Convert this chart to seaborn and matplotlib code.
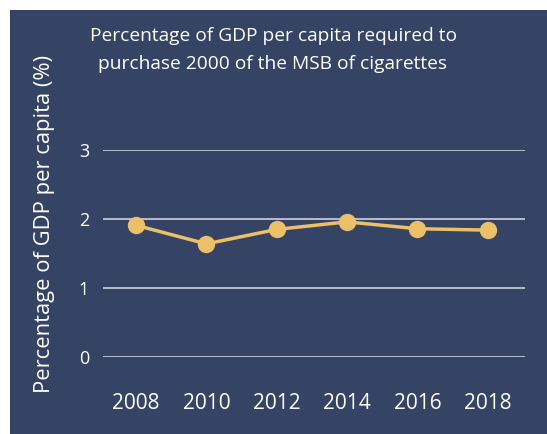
import matplotlib
matplotlib.use("Agg")
import matplotlib.pyplot as plt
import seaborn as sns
import pandas as pd
from matplotlib.patches import Rectangle

years = [2008, 2010, 2012, 2014, 2016, 2018]
pct_gdp = [1.91, 1.64, 1.85, 1.96, 1.86, 1.84]
y_ticks = [0, 1, 2, 3]

navy = "#354465"
gold = "#ecc066"

sns.set_theme(style="dark")
plt.rcParams['font.family'] = ['Open Sans', 'DejaVu Sans']

df = pd.DataFrame({"year": years, "pct": pct_gdp})

fig = plt.figure(figsize=(5.47, 4.34), dpi=100, facecolor="white")
fig.patches.append(Rectangle((10 / 547, 0), 1, 1 - 10 / 434, transform=fig.transFigure,
                             facecolor=navy, edgecolor="none", zorder=-1))

ax = fig.add_axes([103 / 547, (434 - 356.7) / 434, (525 - 103) / 547, (356.7 - 150.3) / 434])
ax.set_facecolor(navy)

sns.lineplot(data=df, x="year", y="pct", ax=ax, color=gold, linewidth=2.5,
             marker="o", markersize=12.5, markeredgewidth=0, clip_on=False, zorder=3)

ax.set_xlim(2007.06, 2019.06)
ax.set_ylim(0, 3)
ax.set_yticks(y_ticks)
ax.set_xticks(years)
ax.grid(False)
for v in y_ticks:
    ax.axhline(v, color="white", alpha=0.75, linewidth=1.2, zorder=1)
for s in ax.spines.values():
    s.set_visible(False)
ax.tick_params(axis="y", colors="white", labelsize=13, length=0, pad=10)
ax.tick_params(axis="x", colors="white", labelsize=15, length=0, pad=26)
ax.set_xlabel("")
ax.set_ylabel("")

fig.text(45 / 547, 1 - 224 / 434, "Percentage of GDP per capita (%)", rotation=90,
         color="white", fontsize=15.8, ha="center", va="center")
fig.text(273 / 547, 1 - 50 / 434, "Percentage of GDP per capita required to\npurchase 2000 of the MSB of cigarettes",
         color="white", fontsize=13.8, ha="center", va="center", linespacing=1.65)

fig.savefig("out.png", dpi=100, facecolor="white")
